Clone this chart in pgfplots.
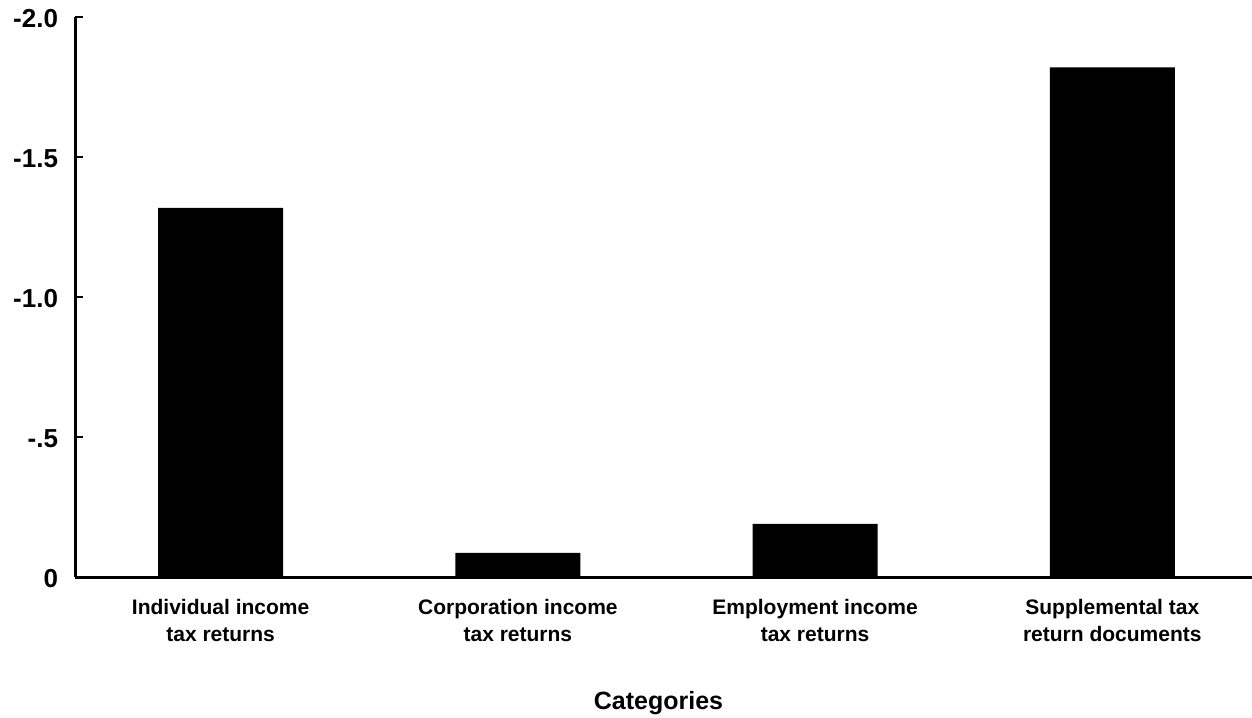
\documentclass[border=0pt]{standalone}
\usepackage{pgfplots}
\pgfplotsset{compat=1.18}
\usepackage{fontspec}
\setmainfont{Liberation Sans}
\begin{document}
\begin{tikzpicture}
\useasboundingbox (0,0) rectangle (626bp,359bp);
\begin{axis}[
    at={(37.5bp,70.5bp)}, anchor=south west,
    scale only axis,
    width=588.5bp, height=280bp,
    xmin=-0.49, xmax=3.47,
    ymin=-2, ymax=0, y dir=reverse,
    axis x line=bottom, axis y line=left,
    axis line style={-, line width=1.5bp},
    ytick={-2,-1.5,-1,-0.5,0},
    yticklabels={-2.0,-1.5,-1.0,-.5,0},
    tick align=inside, major tick length=4bp,
    ytick style={line width=1.2bp, black},
    yticklabel style={font=\fontsize{13bp}{15bp}\selectfont\bfseries, xshift=-5bp, yshift=-1bp},
    xtick={0,1,2,3}, xtick style={draw=none},
    xticklabels={Individual income\\tax returns, Corporation income\\tax returns,
                 Employment income\\tax returns, Supplemental tax\\return documents},
    xticklabel style={align=center, yshift=-3.5bp,
                      font=\fontsize{10.5bp}{13.5bp}\selectfont\bfseries},
    xlabel={Categories},
    xlabel style={yshift=-18bp, xshift=-2.5bp,
                  font=\fontsize{12.5bp}{14bp}\selectfont\bfseries},
    ybar, bar width=62.5bp,
    clip=false,
]
\addplot[fill=black, draw=none] coordinates {(0,-1.318) (1,-0.086) (2,-0.19) (3,-1.82)};
\end{axis}
\end{tikzpicture}
\end{document}
